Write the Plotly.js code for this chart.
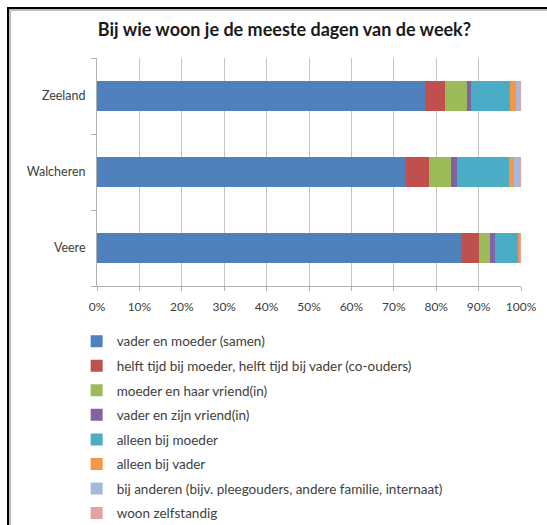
<!DOCTYPE html>
<html>
<head>
<meta charset="utf-8">
<script src="https://cdn.plot.ly/plotly-3.0.1.min.js"></script>
<style>
  body { margin: 0; background: #fff; }
  #wrap { position: relative; width: 547px; height: 525px; overflow: hidden; }
  #frame {
    position: absolute; left: 7px; top: 7px; width: 560px; height: 560px;
    border-left: 2px solid #000; border-top: 2px solid #000;
    box-shadow: inset 2px 2px 0 #bdbdbd;
    pointer-events: none;
  }
</style>
</head>
<body>
<div id="wrap">
  <div id="myDiv"></div>
  <div id="frame"></div>
</div>
<script>
var regions = ['Veere', 'Walcheren', 'Zeeland'];

var seriesNames = [
  'vader en moeder (samen)',
  'helft tijd bij moeder, helft tijd bij vader (co-ouders)',
  'moeder en haar vriend(in)',
  'vader en zijn vriend(in)',
  'alleen bij moeder',
  'alleen bij vader',
  'bij anderen (bijv. pleegouders, andere familie, internaat)',
  'woon zelfstandig'
];

// percentages, order: Veere, Walcheren, Zeeland
var samen       = [86.2, 72.8, 77.4];
var coOuders    = [3.9, 5.5, 4.7];
var moederVr    = [2.6, 5.3, 5.1];
var vaderVr     = [1.2, 1.2, 0.9];
var alleenMoe   = [5.3, 12.4, 9.3];
var alleenVad   = [0.6, 1.1, 1.4];
var anderen     = [0.0, 1.3, 0.8];
var zelfstandig = [0.2, 0.4, 0.4];

var seriesValues = [samen, coOuders, moederVr, vaderVr, alleenMoe, alleenVad, anderen, zelfstandig];
var colors = ['#4F81BD', '#C0504D', '#9BBB59', '#8064A2', '#4BACC6', '#F79646', '#A5B9DC', '#E4A3A2'];

var data = seriesNames.map(function (name, i) {
  return {
    type: 'bar',
    orientation: 'h',
    name: name,
    legendgroup: 'g' + i,
    y: regions,
    x: seriesValues[i],
    marker: { color: colors[i] },
    hoverinfo: 'name+x'
  };
});

var layout = {
  width: 547,
  height: 525,
  margin: { l: 97, r: 26, t: 58, b: 239, autoexpand: false },
  paper_bgcolor: '#fff',
  plot_bgcolor: '#fff',
  font: { family: 'Lato, "Open Sans", sans-serif', color: '#404040', size: 12 },
  barmode: 'stack',
  bargap: 0.6,
  title: {
    text: 'Bij wie woon je de meeste dagen van de week?',
    font: { size: 18, color: '#1a1a1a', weight: 'bold' },
    xref: 'container', yref: 'container',
    x: 0.52, y: 0.943, xanchor: 'center', yanchor: 'middle'
  },
  xaxis: {
    range: [0, 100],
    tickvals: [0, 10, 20, 30, 40, 50, 60, 70, 80, 90, 100],
    ticktext: ['0%', '10%', '20%', '30%', '40%', '50%', '60%', '70%', '80%', '90%', '100%'],
    showgrid: true,
    gridcolor: '#c4c4c4',
    zeroline: false,
    showline: true,
    linecolor: '#b0b0b0',
    ticks: 'outside',
    ticklen: 4,
    tickcolor: '#b0b0b0',
    tickfont: { size: 12, color: '#404040' },
    ticklabelstandoff: 6,
    tickangle: 0,
    fixedrange: true
  },
  yaxis: {
    type: 'category',
    tickson: 'boundaries',
    showgrid: false,
    showline: true,
    linecolor: '#b0b0b0',
    ticks: 'outside',
    ticklen: 5,
    tickcolor: '#b0b0b0',
    tickfont: { size: 12.5, color: '#404040' },
    ticklabelstandoff: 8,
    fixedrange: true
  },
  showlegend: true,
  legend: {
    x: -0.048, xanchor: 'left',
    y: -0.175, yanchor: 'top',
    traceorder: 'grouped',
    tracegroupgap: 4,
    font: { size: 13.5, color: '#404040' },
    bgcolor: 'rgba(0,0,0,0)'
  }
};

Plotly.newPlot('myDiv', data, layout, { displayModeBar: false, staticPlot: true });
</script>
</body>
</html>
